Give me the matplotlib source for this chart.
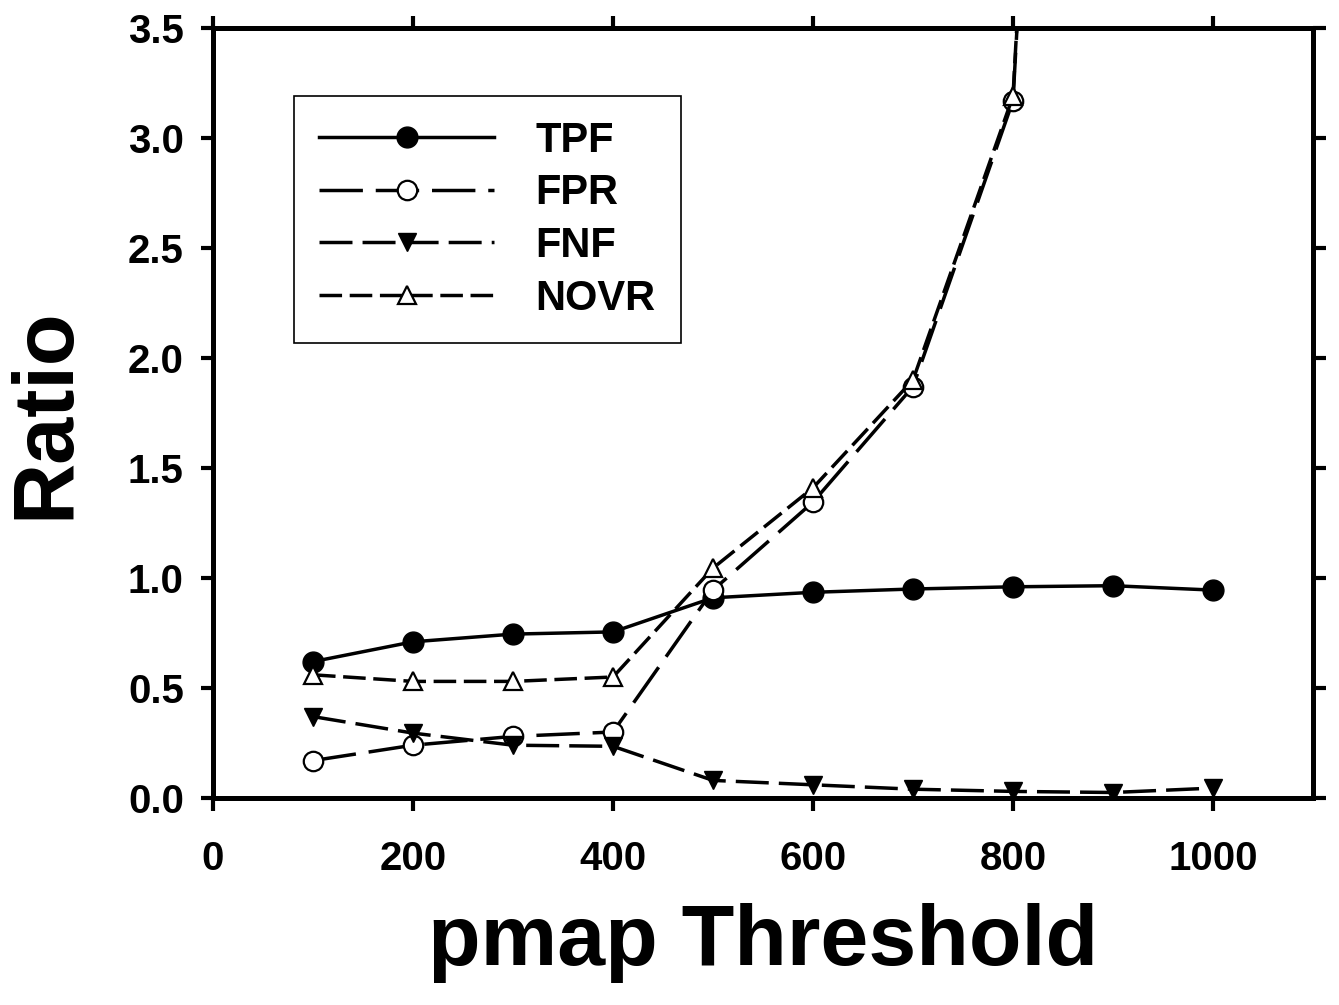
import matplotlib.pyplot as plt

# threshold values and ratios
thresholds = [100, 200, 300, 400, 500, 600, 700, 800, 900, 1000]
tpf = [0.62, 0.71, 0.745, 0.755, 0.91, 0.935, 0.95, 0.96, 0.965, 0.945]
fpr = [0.17, 0.24, 0.28, 0.30, 0.945, 1.345, 1.87, 3.17, 11.4, 14.0]
fnf = [0.37, 0.295, 0.24, 0.235, 0.08, 0.06, 0.04, 0.03, 0.025, 0.045]
novr = [0.56, 0.53, 0.53, 0.55, 1.045, 1.41, 1.90, 3.19, 11.5, 14.0]

plt.rcParams['font.family'] = ['Liberation Sans', 'DejaVu Sans']
plt.rcParams['font.weight'] = 'bold'

fig = plt.figure(figsize=(13.39, 10.05), dpi=100)
ax = fig.add_axes([213 / 1339, 1 - 798 / 1005, 1100 / 1339, 770 / 1005])

lw = 2.5
ax.plot(thresholds, tpf, color='black', lw=lw, ls='-', marker='o', ms=15,
        mfc='black', mec='black', label='TPF')
ax.plot(thresholds, fpr, color='black', lw=lw, ls=(0, (12.5, 3.7)), marker='o', ms=14,
        mfc='white', mec='black', mew=1.6, label='FPR')
ax.plot(thresholds, fnf, color='black', lw=lw, ls=(0, (9.5, 2.9)), marker='v', ms=13,
        mfc='black', mec='black', label='FNF')
ax.plot(thresholds, novr, color='black', lw=lw, ls=(0, (6.5, 2.2)), marker='^', ms=13,
        mfc='white', mec='black', mew=1.6, label='NOVR')

ax.set_xlim(0, 1100)
ax.set_ylim(0, 3.5)
ax.set_xticks([0, 200, 400, 600, 800, 1000])
ax.set_yticks([0.0, 0.5, 1.0, 1.5, 2.0, 2.5, 3.0, 3.5])
ax.set_yticklabels(['0.0', '0.5', '1.0', '1.5', '2.0', '2.5', '3.0', '3.5'])

for s in ax.spines.values():
    s.set_linewidth(3.6)
ax.tick_params(direction='out', length=9, width=3, labelsize=29,
               top=True, right=True)
ax.tick_params(axis='x', pad=21)
ax.tick_params(axis='y', pad=12)

ax.set_xlabel('pmap Threshold', fontsize=62, fontweight='bold', labelpad=18)
ax.set_ylabel('Ratio', fontsize=61, fontweight='bold', labelpad=30)

leg = ax.legend(loc='upper left', bbox_to_anchor=(81 / 1100, 702 / 770), fontsize=30,
                borderaxespad=0, handlelength=4.2, handletextpad=1.0, borderpad=0.6,
                labelspacing=0.3, fancybox=False, framealpha=1,
                edgecolor='black')
leg.get_frame().set_linewidth(1.2)

fig.savefig('out.png', dpi=100)
